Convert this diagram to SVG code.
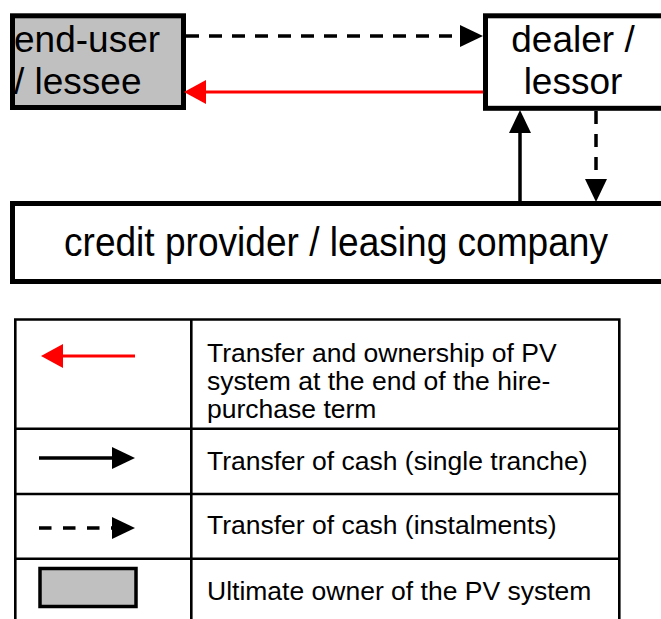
<svg xmlns="http://www.w3.org/2000/svg" width="661" height="619" viewBox="0 0 661 619">
<style>
.box{stroke:#000;stroke-width:5}
.owner{fill:#c0c0c0}
.plain{fill:#fff}
.lbl{font-family:"Liberation Sans",Arial,sans-serif;fill:#000}
.big{font-size:37px}
.leg{font-size:26.5px}
.cash{stroke:#000;stroke-width:3.5;fill:none}
.dash{stroke-dasharray:13 10}
.own{stroke:#ff0000;stroke-width:3;fill:none}
.grid{stroke:#000;stroke-width:2.6;fill:none}
</style>
<defs>
<marker id="ah" markerUnits="userSpaceOnUse" viewBox="0 -12 23 24" refX="0" refY="0" markerWidth="23" markerHeight="24" orient="auto" overflow="visible">
<path d="M0,-11 L23,0 L0,11 Z" fill="#000"/>
</marker>
<marker id="ahr" markerUnits="userSpaceOnUse" viewBox="0 -12 23 24" refX="0" refY="0" markerWidth="23" markerHeight="24" orient="auto" overflow="visible">
<path d="M0,-12 L22,0 L0,12 Z" fill="#ff0000"/>
</marker>
</defs>
<rect width="661" height="619" fill="#fff"/>

<g id="end-user">
<rect class="box owner" x="12.5" y="15.8" width="171" height="91.7"/>
<text class="lbl big" x="14" y="52">end-user</text>
<text class="lbl big" x="14" y="94">/ lessee</text>
</g>

<g id="dealer">
<rect class="box plain" x="485.5" y="15.8" width="200" height="92.5"/>
<text class="lbl big" x="573" y="52" text-anchor="middle">dealer /</text>
<text class="lbl big" x="573" y="94" text-anchor="middle">lessor</text>
</g>

<g id="credit-provider">
<rect class="box plain" x="12.5" y="203.5" width="660" height="78"/>
<text class="lbl" x="64" y="256" font-size="40" textLength="544" lengthAdjust="spacingAndGlyphs">credit provider / leasing company</text>
</g>

<g id="connectors">
<line class="cash dash" x1="186" y1="36" x2="460" y2="36" marker-end="url(#ah)"/>
<line class="own" x1="483" y1="92" x2="206" y2="92" marker-end="url(#ahr)"/>
<line class="cash" x1="520" y1="202" x2="520" y2="133" marker-end="url(#ah)"/>
<line class="cash dash" x1="596" y1="111" x2="596" y2="179" marker-end="url(#ah)"/>
</g>

<g id="legend">
<path class="grid" d="M15.3,625 V319.5 H619.3 V625 M191.3,319.5 V625 M15.3,428.7 H619.3 M15.3,494 H619.3 M15.3,558.8 H619.3"/>
<line class="own" x1="135" y1="356" x2="63" y2="356" marker-end="url(#ahr)"/>
<text class="lbl leg" x="207" y="362">Transfer and ownership of PV</text>
<text class="lbl leg" x="207" y="390">system at the end of the hire-</text>
<text class="lbl leg" x="207" y="418">purchase term</text>
<line class="cash" x1="39" y1="458" x2="112" y2="458" marker-end="url(#ah)"/>
<text class="lbl leg" x="207" y="470">Transfer of cash (single tranche)</text>
<line class="cash" x1="39" y1="528" x2="112" y2="528" stroke-dasharray="12.5 11.5" marker-end="url(#ah)"/>
<text class="lbl leg" x="207" y="533.5">Transfer of cash (instalments)</text>
<rect class="owner" x="40" y="568.5" width="96" height="38" stroke="#000" stroke-width="3.5"/>
<text class="lbl leg" x="207" y="600">Ultimate owner of the PV system</text>
</g>
</svg>
